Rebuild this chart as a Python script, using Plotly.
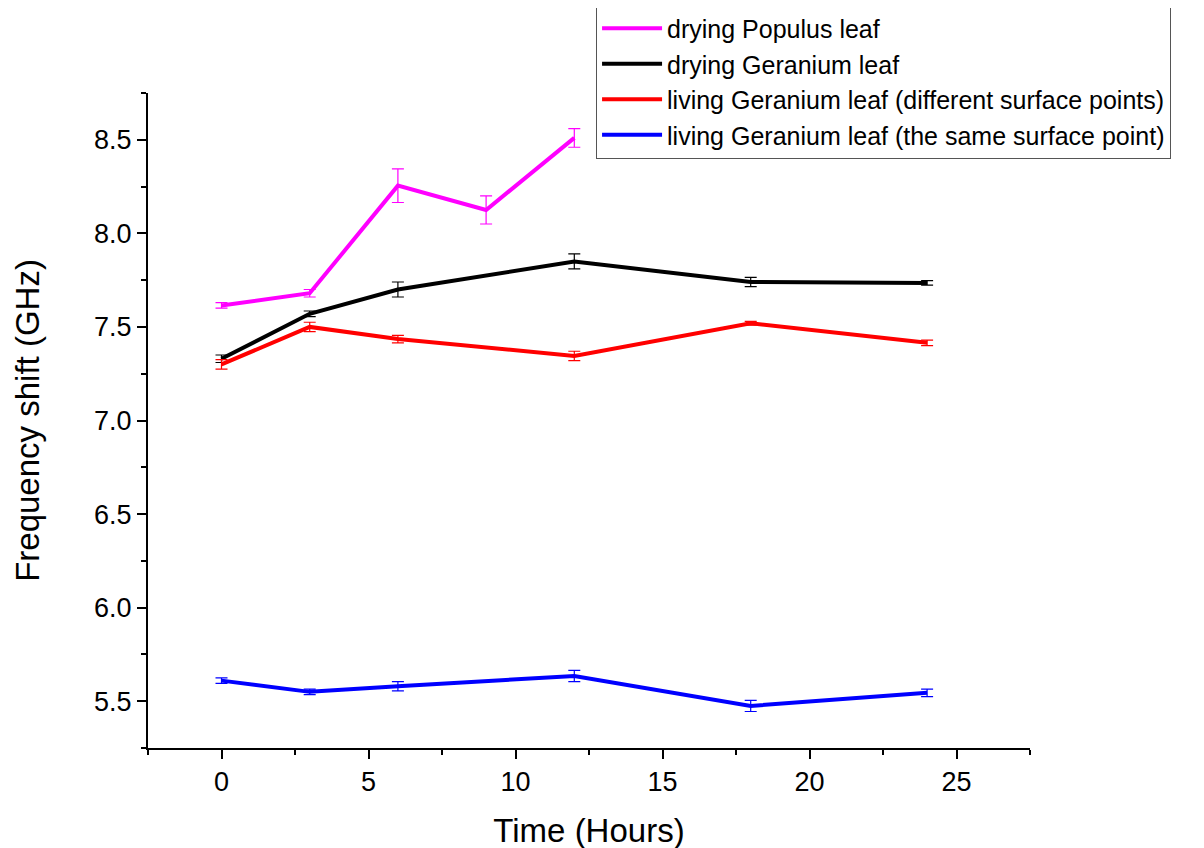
import plotly.graph_objects as go

names = ["drying Populus leaf", "drying Geranium leaf",
         "living Geranium leaf (different surface points)",
         "living Geranium leaf (the same surface point)"]
colors = ["#ff00ff", "#000000", "#ff0000", "#0000ff"]

populus_x = [0, 3, 6, 9, 12]
populus_y = [7.615, 7.68, 8.255, 8.125, 8.51]
populus_err = [0.015, 0.02, 0.09, 0.075, 0.05]

geranium_dry_x = [0, 3, 6, 12, 18, 24]
geranium_dry_y = [7.33, 7.57, 7.70, 7.85, 7.74, 7.735]
geranium_dry_err = [0.02, 0.015, 0.04, 0.04, 0.025, 0.012]

living_diff_x = [0, 3, 6, 12, 18, 24]
living_diff_y = [7.30, 7.50, 7.435, 7.345, 7.52, 7.415]
living_diff_err = [0.025, 0.025, 0.02, 0.025, 0.01, 0.015]

living_same_x = [0, 3, 6, 12, 18, 24]
living_same_y = [5.61, 5.55, 5.58, 5.635, 5.475, 5.545]
living_same_err = [0.015, 0.015, 0.025, 0.03, 0.03, 0.02]

series = [(populus_x, populus_y, populus_err),
          (geranium_dry_x, geranium_dry_y, geranium_dry_err),
          (living_diff_x, living_diff_y, living_diff_err),
          (living_same_x, living_same_y, living_same_err)]

fig = go.Figure()
for (xs, ys, es), name, c in zip(series, names, colors):
    fig.add_trace(go.Scatter(
        x=xs, y=ys, name=name, mode="lines",
        line=dict(color=c, width=4),
        error_y=dict(type="data", array=es, visible=True, color=c, thickness=1.2, width=6),
    ))

font = "Liberation Sans, Arial, sans-serif"
fig.update_layout(
    width=1204, height=848,
    margin=dict(l=140, r=182, t=85, b=108, autoexpand=False),
    paper_bgcolor="white", plot_bgcolor="white",
    font=dict(family=font, color="black"),
    showlegend=True,
    legend=dict(x=0.508, y=1.135, xanchor="left", yanchor="top",
                bordercolor="#555555", borderwidth=1, bgcolor="white",
                font=dict(size=25, family=font), tracegroupgap=0,
                itemwidth=60),
    xaxis=dict(range=[-2.5, 27.5], tickvals=[0, 5, 10, 15, 20, 25],
               showline=True, linecolor="black", linewidth=2, mirror=False,
               ticks="outside", ticklen=9, tickwidth=2, tickcolor="black",
               minor=dict(dtick=2.5, tick0=0, ticks="outside", ticklen=5, tickwidth=2, tickcolor="black"),
               showgrid=False, zeroline=False, automargin=False,
               tickfont=dict(size=27),
               title=dict(text="Time (Hours)", font=dict(size=33), standoff=22)),
    yaxis=dict(range=[5.25, 8.75], tickvals=[5.5, 6.0, 6.5, 7.0, 7.5, 8.0, 8.5],
               ticktext=["5.5", "6.0", "6.5", "7.0", "7.5", "8.0", "8.5"],
               showline=True, linecolor="black", linewidth=2, mirror=False,
               ticks="outside", ticklen=9, tickwidth=2, tickcolor="black",
               minor=dict(dtick=0.25, tick0=0, ticks="outside", ticklen=5, tickwidth=2, tickcolor="black"),
               showgrid=False, zeroline=False, automargin=False,
               tickfont=dict(size=27),
               title=dict(text="Frequency shift (GHz)", font=dict(size=33), standoff=45)),
)

fig.write_html("out.html")
